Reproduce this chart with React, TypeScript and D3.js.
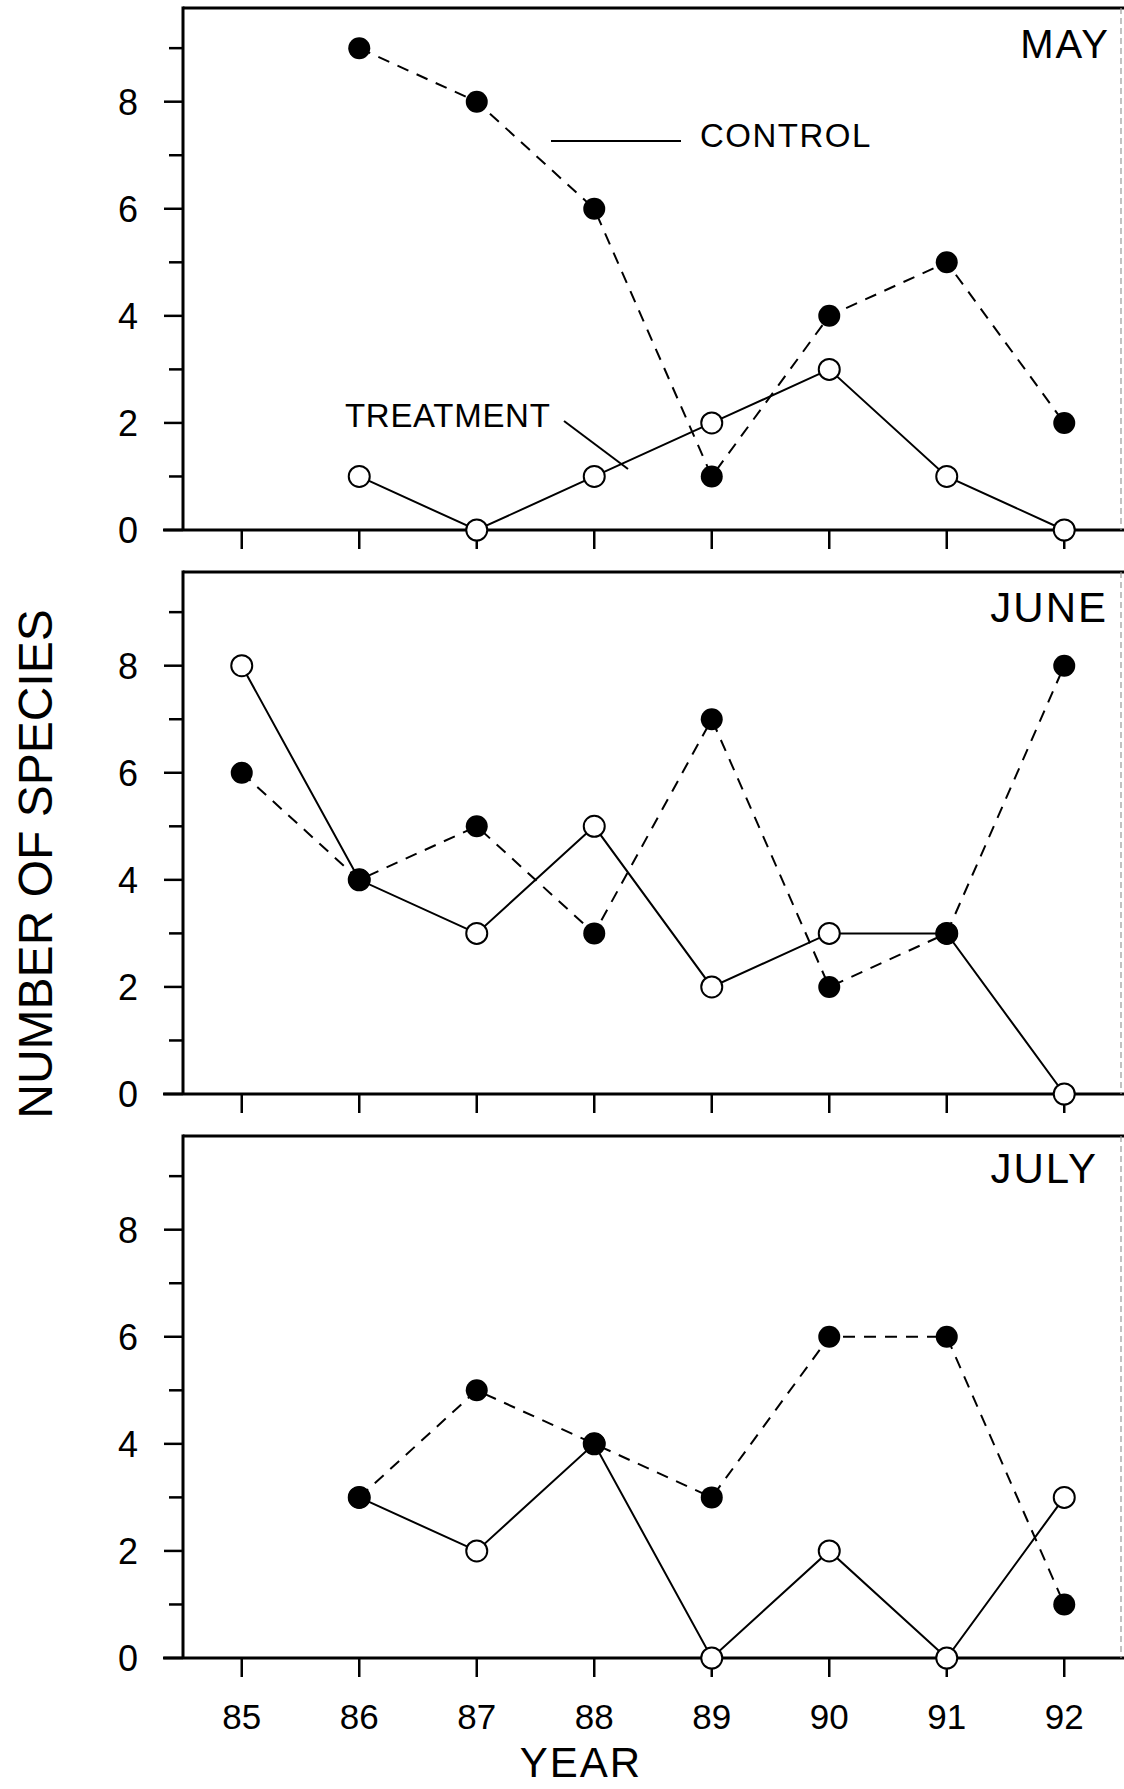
import React from "react";
import * as d3 from "d3";

const years = [85, 86, 87, 88, 89, 90, 91, 92];
const months = ["MAY", "JUNE", "JULY"];
const yTicks = [0, 1, 2, 3, 4, 5, 6, 7, 8, 9];
const yLabels = [0, 2, 4, 6, 8];

// [year, value]
const mayControl: [number, number][] = [[86, 9], [87, 8], [88, 6], [89, 1], [90, 4], [91, 5], [92, 2]];
const mayTreatment: [number, number][] = [[86, 1], [87, 0], [88, 1], [89, 2], [90, 3], [91, 1], [92, 0]];
const juneControl: [number, number][] = [[85, 6], [86, 4], [87, 5], [88, 3], [89, 7], [90, 2], [91, 3], [92, 8]];
const juneTreatment: [number, number][] = [[85, 8], [86, 4], [87, 3], [88, 5], [89, 2], [90, 3], [91, 3], [92, 0]];
const julyControl: [number, number][] = [[86, 3], [87, 5], [88, 4], [89, 3], [90, 6], [91, 6], [92, 1]];
const julyTreatment: [number, number][] = [[86, 3], [87, 2], [88, 4], [89, 0], [90, 2], [91, 0], [92, 3]];

const controls = [mayControl, juneControl, julyControl];
const treatments = [mayTreatment, juneTreatment, julyTreatment];

const W = 1124;
const H = 1789;
const FONT = "'Liberation Sans', Arial, sans-serif";

const x = d3.scaleLinear().domain([84.5, 92.5]).range([183, 1123]);
const zeros = [530, 1094, 1658];
const monthPos = [
  { x: 1110, y: 58, size: 40 },
  { x: 1108, y: 622, size: 42 },
  { x: 1098, y: 1183, size: 42 },
];

function Panel({ i }: { i: number }) {
  const zero = zeros[i];
  const y = d3.scaleLinear().domain([0, 9.75]).range([zero, zero - 522]);
  const line = d3
    .line<[number, number]>()
    .x((d) => x(d[0]))
    .y((d) => y(d[1]));
  const top = y(9.75);
  return (
    <g>
      {/* frame */}
      <line x1={183} x2={1124} y1={top} y2={top} stroke="#000" strokeWidth={3} />
      <line x1={183} x2={183} y1={top - 1.5} y2={zero} stroke="#000" strokeWidth={3} />
      <line x1={163} x2={1124} y1={zero} y2={zero} stroke="#000" strokeWidth={3} />
      <line x1={1121} x2={1121} y1={top} y2={zero} stroke="#999" strokeWidth={1.2} strokeDasharray="6 4" />
      {/* y ticks */}
      {yTicks.map((t) => (
        <line
          key={t}
          x1={t % 2 === 0 ? 164 : 169}
          x2={183}
          y1={y(t)}
          y2={y(t)}
          stroke="#000"
          strokeWidth={2.5}
        />
      ))}
      {yLabels.map((t) => (
        <text
          key={t}
          x={138}
          y={y(t)}
          dy="0.36em"
          textAnchor="end"
          fontFamily={FONT}
          fontSize={36}
        >
          {t}
        </text>
      ))}
      {/* x ticks */}
      {years.map((yr) => (
        <line key={yr} x1={x(yr)} x2={x(yr)} y1={zero} y2={zero + 19} stroke="#000" strokeWidth={2.5} />
      ))}
      {i === 2 &&
        years.map((yr) => (
          <text
            key={yr}
            x={x(yr)}
            y={1729}
            textAnchor="middle"
            fontFamily={FONT}
            fontSize={35}
          >
            {yr}
          </text>
        ))}
      {/* month label */}
      <text
        x={monthPos[i].x}
        y={monthPos[i].y}
        textAnchor="end"
        fontFamily={FONT}
        fontSize={monthPos[i].size}
        letterSpacing={2}
      >
        {months[i]}
      </text>
      {/* treatment: solid, open circles */}
      <path d={line(treatments[i]) || ""} fill="none" stroke="#000" strokeWidth={2} />
      {/* control: dashed, filled circles */}
      <path
        d={line(controls[i]) || ""}
        fill="none"
        stroke="#000"
        strokeWidth={2}
        strokeDasharray="12 9"
      />
      {treatments[i].map((d) => (
        <circle key={"t" + d[0]} cx={x(d[0])} cy={y(d[1])} r={10.5} fill="#fff" stroke="#000" strokeWidth={2} />
      ))}
      {controls[i].map((d) => (
        <circle key={"c" + d[0]} cx={x(d[0])} cy={y(d[1])} r={11} fill="#000" />
      ))}
    </g>
  );
}

export default function App() {
  return (
    <svg width={W} height={H} style={{ position: "absolute", left: 0, top: 0, background: "#fff" }}>
      <rect x={0} y={0} width={W} height={H} fill="#fff" />
      {[0, 1, 2].map((i) => (
        <Panel key={i} i={i} />
      ))}
      {/* legend annotations in May panel */}
      <line x1={551} x2={681} y1={141} y2={141} stroke="#000" strokeWidth={2} />
      <text x={700} y={147} fontFamily={FONT} fontSize={33} letterSpacing={1.5}>
        CONTROL
      </text>
      <text x={345} y={427} fontFamily={FONT} fontSize={33} letterSpacing={0.7}>
        TREATMENT
      </text>
      <line x1={564} x2={628} y1={421} y2={469} stroke="#000" strokeWidth={2} />
      {/* axis titles */}
      <text x={581} y={1777} textAnchor="middle" fontFamily={FONT} fontSize={42} letterSpacing={2}>
        YEAR
      </text>
      <text
        transform="translate(52,864) rotate(-90)"
        textAnchor="middle"
        fontFamily={FONT}
        fontSize={48}
      >
        NUMBER OF SPECIES
      </text>
    </svg>
  );
}
